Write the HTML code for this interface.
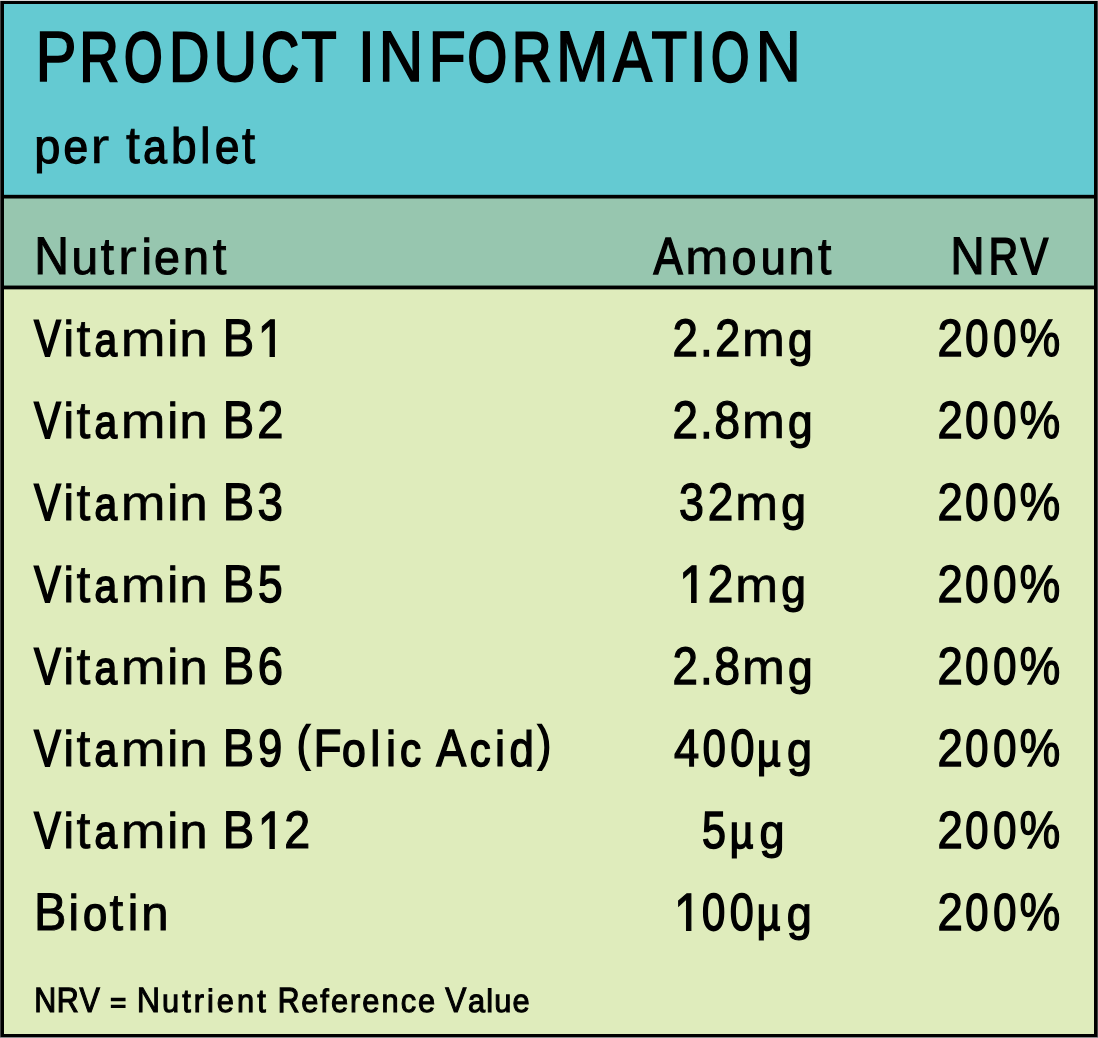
<!DOCTYPE html>
<html lang="en">
<head>
<meta charset="utf-8">
<title>Product Information</title>
<style>
html,body{margin:0;padding:0;background:#000;}
body{width:1098px;height:1038px;overflow:hidden;position:relative;font-family:"Liberation Sans",sans-serif;color:#000;}
#card{position:absolute;left:0;top:0;width:1098px;height:1038px;background:#000;overflow:hidden;}
.band{position:absolute;left:4px;width:1090px;}
#b1{top:4px;height:191px;background:#64cad2;}
#b2{top:198px;height:88px;background:#97c6af;}
#b3{top:289px;height:745px;background:#dfecbc;}
.ln{position:absolute;left:4px;width:1090px;height:5px;}
#l1{top:194px;background:linear-gradient(to bottom,rgba(0,0,0,.18) 0,rgba(0,0,0,.18) 1px,#000 1px,#000 4px,rgba(0,0,0,.5) 4px,rgba(0,0,0,.5) 5px);}
#l2{top:285px;background:linear-gradient(to bottom,rgba(0,0,0,.45) 0,rgba(0,0,0,.45) 1px,#000 1px,#000 4px,rgba(0,0,0,.35) 4px,rgba(0,0,0,.35) 5px);}
#edgeT{position:absolute;left:0;top:0;width:1098px;height:1px;background:#d7d5d5;}
#edgeL{position:absolute;left:0;top:1px;width:1px;height:1036px;background:#444;}
#edgeR{position:absolute;left:1097px;top:1px;width:1px;height:1036px;background:#444;}
#edgeB{position:absolute;left:0;top:1037px;width:1098px;height:1px;background:#8a8a8e;}
.blk{margin:0;padding:0;font-weight:400;}
.blk span{position:absolute;left:0;top:0;white-space:nowrap;line-height:normal;transform-origin:0 0;display:block;font-kerning:none;text-rendering:geometricPrecision;-webkit-text-stroke-color:#000;}
</style>
</head>
<body>
<div id="card">
<div class="band" id="b1"></div>
<div class="band" id="b2"></div>
<div class="band" id="b3"></div>
<div class="ln" id="l1"></div>
<div class="ln" id="l2"></div>
<div id="edgeT"></div><div id="edgeL"></div><div id="edgeR"></div><div id="edgeB"></div>
<div class="blk" id="title"><span id="title_0" style="font-size:71.29px;-webkit-text-stroke-width:1.65px;transform:translate(35.56px,16px) scaleX(0.8645)">P</span><span id="title_1" style="font-size:70.01px;-webkit-text-stroke-width:2.54px;transform:translate(79.39px,17px) scaleX(0.7742)">R</span><span id="title_2" style="font-size:69.33px;-webkit-text-stroke-width:3.00px;transform:translate(124.26px,17px) scaleX(0.7067)">O</span><span id="title_3" style="font-size:70.23px;-webkit-text-stroke-width:2.38px;transform:translate(169.28px,16px) scaleX(0.7884)">D</span><span id="title_4" style="font-size:71.19px;-webkit-text-stroke-width:1.72px;transform:translate(213.22px,17px) scaleX(0.8567)">U</span><span id="title_5" style="font-size:69.55px;-webkit-text-stroke-width:2.85px;transform:translate(261.16px,17px) scaleX(0.7465)">C</span><span id="title_6" style="font-size:70.60px;-webkit-text-stroke-width:2.13px;transform:translate(301.52px,16px) scaleX(0.8132)">T</span> <span id="title_7" style="font-size:70.83px;-webkit-text-stroke-width:1.97px;transform:translate(358.28px,17px) scaleX(0.8300)">I</span><span id="title_8" style="font-size:71.38px;-webkit-text-stroke-width:1.59px;transform:translate(378.62px,16px) scaleX(0.8715)">N</span><span id="title_9" style="font-size:71.20px;-webkit-text-stroke-width:1.71px;transform:translate(428.52px,17px) scaleX(0.8575)">F</span><span id="title_10" style="font-size:69.33px;-webkit-text-stroke-width:3.00px;transform:translate(467.66px,17px) scaleX(0.7239)">O</span><span id="title_11" style="font-size:70.09px;-webkit-text-stroke-width:2.48px;transform:translate(511.96px,17px) scaleX(0.7796)">R</span><span id="title_12" style="font-size:71.58px;-webkit-text-stroke-width:1.45px;transform:translate(555.83px,16px) scaleX(0.8876)">M</span><span id="title_13" style="font-size:70.67px;-webkit-text-stroke-width:2.08px;transform:translate(613.17px,16px) scaleX(0.8185)">A</span><span id="title_14" style="font-size:70.75px;-webkit-text-stroke-width:2.02px;transform:translate(651.51px,16px) scaleX(0.8240)">T</span><span id="title_15" style="font-size:70.83px;-webkit-text-stroke-width:1.97px;transform:translate(690.10px,17px) scaleX(0.8300)">I</span><span id="title_16" style="font-size:69.33px;-webkit-text-stroke-width:3.00px;transform:translate(711.27px,17px) scaleX(0.7029)">O</span><span id="title_17" style="font-size:71.52px;-webkit-text-stroke-width:1.49px;transform:translate(755.40px,16px) scaleX(0.8830)">N</span></div>
<div class="blk" id="sub"><span id="sub_0" style="font-size:48.14px;-webkit-text-stroke-width:1.08px;transform:translate(34.15px,119px) scaleX(0.9767)">p</span><span id="sub_1" style="font-size:47.62px;-webkit-text-stroke-width:1.36px;transform:translate(63.40px,120px) scaleX(0.9291)">e</span><span id="sub_2" style="font-size:49.62px;-webkit-text-stroke-width:0.30px;transform:translate(90.25px,117px) scaleX(1.1600)">r</span> <span id="sub_3" style="font-size:52.21px;-webkit-text-stroke-width:0.77px;transform:translate(125.98px,116px) scaleX(0.9617)">t</span><span id="sub_4" style="font-size:47.25px;-webkit-text-stroke-width:1.55px;transform:translate(143.24px,120px) scaleX(0.8979)">a</span><span id="sub_5" style="font-size:49.67px;-webkit-text-stroke-width:1.17px;transform:translate(171.04px,117px) scaleX(0.9281)">b</span><span id="sub_6" style="font-size:49.92px;-webkit-text-stroke-width:1.04px;transform:translate(199.88px,117px) scaleX(0.9500)">l</span><span id="sub_7" style="font-size:47.52px;-webkit-text-stroke-width:1.41px;transform:translate(215.04px,120px) scaleX(0.9205)">e</span><span id="sub_8" style="font-size:51.71px;-webkit-text-stroke-width:1.10px;transform:translate(241.88px,115px) scaleX(0.9059)">t</span></div>
<div class="blk" id="h1"><span id="h1_0" style="font-size:52.94px;-webkit-text-stroke-width:1.08px;transform:translate(34.24px,226px) scaleX(0.9078)">N</span><span id="h1_1" style="font-size:48.29px;-webkit-text-stroke-width:1.00px;transform:translate(71.45px,230px) scaleX(0.9912)">u</span><span id="h1_2" style="font-size:51.83px;-webkit-text-stroke-width:1.02px;transform:translate(100.71px,226px) scaleX(0.9192)">t</span><span id="h1_3" style="font-size:49.62px;-webkit-text-stroke-width:0.30px;transform:translate(117.70px,228px) scaleX(1.1600)">r</span><span id="h1_4" style="font-size:49.92px;-webkit-text-stroke-width:1.04px;transform:translate(141.43px,228px) scaleX(0.9500)">i</span><span id="h1_5" style="font-size:48.07px;-webkit-text-stroke-width:1.12px;transform:translate(154.00px,230px) scaleX(0.9698)">e</span><span id="h1_6" style="font-size:48.07px;-webkit-text-stroke-width:1.12px;transform:translate(182.99px,230px) scaleX(0.9699)">n</span><span id="h1_7" style="font-size:52.07px;-webkit-text-stroke-width:0.87px;transform:translate(212.71px,227px) scaleX(0.9451)">t</span></div>
<div class="blk" id="h2"><span id="h2_0" style="font-size:52.27px;-webkit-text-stroke-width:1.54px;transform:translate(653.51px,227px) scaleX(0.8373)">A</span><span id="h2_1" style="font-size:48.92px;-webkit-text-stroke-width:0.67px;transform:translate(685.30px,230px) scaleX(1.0578)">m</span><span id="h2_2" style="font-size:47.60px;-webkit-text-stroke-width:1.37px;transform:translate(731.80px,231px) scaleX(0.9277)">o</span><span id="h2_3" style="font-size:47.78px;-webkit-text-stroke-width:1.27px;transform:translate(760.80px,231px) scaleX(0.9435)">u</span><span id="h2_4" style="font-size:48.15px;-webkit-text-stroke-width:1.07px;transform:translate(788.48px,230px) scaleX(0.9782)">n</span><span id="h2_5" style="font-size:51.91px;-webkit-text-stroke-width:0.96px;transform:translate(817.89px,227px) scaleX(0.9281)">t</span></div>
<div class="blk" id="h3"><span id="h3_0" style="font-size:52.90px;-webkit-text-stroke-width:1.11px;transform:translate(950.23px,226px) scaleX(0.9029)">N</span><span id="h3_1" style="font-size:51.71px;-webkit-text-stroke-width:1.92px;transform:translate(988.78px,226px) scaleX(0.7868)">R</span><span id="h3_2" style="font-size:51.77px;-webkit-text-stroke-width:1.88px;transform:translate(1020.76px,226px) scaleX(0.7923)">V</span></div>
<div class="blk" id="n0"><span id="n0_0" style="font-size:51.50px;-webkit-text-stroke-width:2.07px;transform:translate(34.37px,308px) scaleX(0.7692)">V</span><span id="n0_1" style="font-size:49.92px;-webkit-text-stroke-width:1.04px;transform:translate(63.40px,310px) scaleX(0.9500)">i</span><span id="n0_2" style="font-size:52.17px;-webkit-text-stroke-width:0.80px;transform:translate(76.51px,309px) scaleX(0.9578)">t</span><span id="n0_3" style="font-size:46.85px;-webkit-text-stroke-width:1.76px;transform:translate(94.44px,313px) scaleX(0.8668)">a</span><span id="n0_4" style="font-size:49.21px;-webkit-text-stroke-width:0.52px;transform:translate(120.67px,311px) scaleX(1.0916)">m</span><span id="n0_5" style="font-size:49.92px;-webkit-text-stroke-width:1.04px;transform:translate(167.50px,310px) scaleX(0.9500)">i</span><span id="n0_6" style="font-size:48.71px;-webkit-text-stroke-width:0.78px;transform:translate(179.53px,312px) scaleX(1.0346)">n</span> <span id="n0_7" style="font-size:52.80px;-webkit-text-stroke-width:1.17px;transform:translate(222.67px,308px) scaleX(0.8924)">B</span><span id="n0_8" style="font-size:62.80px;-webkit-text-stroke-width:1.20px;clip-path:polygon(-9px -9px,99px -9px,99px 51.00px,-9px 51.00px);transform:translate(257.48px,306px) scaleX(0.7918)">1</span></div>
<div class="blk" id="a0"><span id="a0_0" style="font-size:52.59px;-webkit-text-stroke-width:1.32px;transform:translate(672.46px,308px) scaleX(0.8692)">2</span><span id="a0_1" style="font-size:52.59px;-webkit-text-stroke-width:1.32px;transform:translate(699.98px,308px) scaleX(0.8700)">.</span><span id="a0_2" style="font-size:52.44px;-webkit-text-stroke-width:1.42px;transform:translate(715.13px,309px) scaleX(0.8539)">2</span><span id="a0_3" style="font-size:48.85px;-webkit-text-stroke-width:0.71px;transform:translate(742.04px,312px) scaleX(1.0504)">m</span><span id="a0_4" style="font-size:47.61px;-webkit-text-stroke-width:1.36px;transform:translate(787.95px,313px) scaleX(0.9284)">g</span></div>
<div class="blk" id="p0"><span id="p0_0" style="font-size:52.56px;-webkit-text-stroke-width:1.34px;transform:translate(937.56px,308px) scaleX(0.8668)">2</span><span id="p0_1" style="font-size:51.89px;-webkit-text-stroke-width:1.80px;transform:translate(965.22px,308px) scaleX(0.8022)">0</span><span id="p0_2" style="font-size:51.89px;-webkit-text-stroke-width:1.80px;transform:translate(993.22px,308px) scaleX(0.8022)">0</span><span id="p0_3" style="font-size:52.61px;-webkit-text-stroke-width:1.30px;transform:translate(1019.62px,308px) scaleX(0.8720)">%</span></div>
<div class="blk" id="n1"><span id="n1_0" style="font-size:51.50px;-webkit-text-stroke-width:2.07px;transform:translate(34.37px,390px) scaleX(0.7692)">V</span><span id="n1_1" style="font-size:49.92px;-webkit-text-stroke-width:1.04px;transform:translate(63.40px,392px) scaleX(0.9500)">i</span><span id="n1_2" style="font-size:52.17px;-webkit-text-stroke-width:0.80px;transform:translate(76.51px,391px) scaleX(0.9578)">t</span><span id="n1_3" style="font-size:46.85px;-webkit-text-stroke-width:1.76px;transform:translate(94.44px,395px) scaleX(0.8668)">a</span><span id="n1_4" style="font-size:49.21px;-webkit-text-stroke-width:0.52px;transform:translate(120.67px,393px) scaleX(1.0916)">m</span><span id="n1_5" style="font-size:49.92px;-webkit-text-stroke-width:1.04px;transform:translate(167.50px,392px) scaleX(0.9500)">i</span><span id="n1_6" style="font-size:48.71px;-webkit-text-stroke-width:0.78px;transform:translate(179.53px,394px) scaleX(1.0346)">n</span> <span id="n1_7" style="font-size:52.80px;-webkit-text-stroke-width:1.17px;transform:translate(222.67px,390px) scaleX(0.8924)">B</span><span id="n1_8" style="font-size:52.80px;-webkit-text-stroke-width:1.17px;transform:translate(257.25px,390px) scaleX(0.8923)">2</span></div>
<div class="blk" id="a1"><span id="a1_0" style="font-size:52.59px;-webkit-text-stroke-width:1.32px;transform:translate(672.46px,390px) scaleX(0.8692)">2</span><span id="a1_1" style="font-size:52.59px;-webkit-text-stroke-width:1.32px;transform:translate(699.98px,390px) scaleX(0.8700)">.</span><span id="a1_2" style="font-size:52.71px;-webkit-text-stroke-width:1.24px;transform:translate(714.33px,390px) scaleX(0.8821)">8</span><span id="a1_3" style="font-size:48.85px;-webkit-text-stroke-width:0.71px;transform:translate(742.04px,394px) scaleX(1.0504)">m</span><span id="a1_4" style="font-size:47.61px;-webkit-text-stroke-width:1.36px;transform:translate(787.95px,395px) scaleX(0.9284)">g</span></div>
<div class="blk" id="p1"><span id="p1_0" style="font-size:52.56px;-webkit-text-stroke-width:1.34px;transform:translate(937.56px,390px) scaleX(0.8668)">2</span><span id="p1_1" style="font-size:51.89px;-webkit-text-stroke-width:1.80px;transform:translate(965.22px,390px) scaleX(0.8022)">0</span><span id="p1_2" style="font-size:51.89px;-webkit-text-stroke-width:1.80px;transform:translate(993.22px,390px) scaleX(0.8022)">0</span><span id="p1_3" style="font-size:52.61px;-webkit-text-stroke-width:1.30px;transform:translate(1019.62px,390px) scaleX(0.8720)">%</span></div>
<div class="blk" id="n2"><span id="n2_0" style="font-size:51.50px;-webkit-text-stroke-width:2.07px;transform:translate(34.37px,472px) scaleX(0.7692)">V</span><span id="n2_1" style="font-size:49.92px;-webkit-text-stroke-width:1.04px;transform:translate(63.40px,474px) scaleX(0.9500)">i</span><span id="n2_2" style="font-size:52.17px;-webkit-text-stroke-width:0.80px;transform:translate(76.51px,473px) scaleX(0.9578)">t</span><span id="n2_3" style="font-size:46.85px;-webkit-text-stroke-width:1.76px;transform:translate(94.44px,477px) scaleX(0.8668)">a</span><span id="n2_4" style="font-size:49.21px;-webkit-text-stroke-width:0.52px;transform:translate(120.67px,475px) scaleX(1.0916)">m</span><span id="n2_5" style="font-size:49.92px;-webkit-text-stroke-width:1.04px;transform:translate(167.50px,474px) scaleX(0.9500)">i</span><span id="n2_6" style="font-size:48.71px;-webkit-text-stroke-width:0.78px;transform:translate(179.53px,476px) scaleX(1.0346)">n</span> <span id="n2_7" style="font-size:52.80px;-webkit-text-stroke-width:1.17px;transform:translate(222.67px,472px) scaleX(0.8924)">B</span><span id="n2_8" style="font-size:52.59px;-webkit-text-stroke-width:1.32px;transform:translate(257.44px,472px) scaleX(0.8693)">3</span></div>
<div class="blk" id="a2"><span id="a2_0" style="font-size:52.44px;-webkit-text-stroke-width:1.42px;transform:translate(678.96px,473px) scaleX(0.8540)">3</span><span id="a2_1" style="font-size:52.63px;-webkit-text-stroke-width:1.29px;transform:translate(707.69px,472px) scaleX(0.8733)">2</span><span id="a2_2" style="font-size:48.87px;-webkit-text-stroke-width:0.70px;transform:translate(735.26px,476px) scaleX(1.0521)">m</span><span id="a2_3" style="font-size:47.62px;-webkit-text-stroke-width:1.36px;transform:translate(781.13px,477px) scaleX(0.9296)">g</span></div>
<div class="blk" id="p2"><span id="p2_0" style="font-size:52.56px;-webkit-text-stroke-width:1.34px;transform:translate(937.56px,472px) scaleX(0.8668)">2</span><span id="p2_1" style="font-size:51.89px;-webkit-text-stroke-width:1.80px;transform:translate(965.22px,472px) scaleX(0.8022)">0</span><span id="p2_2" style="font-size:51.89px;-webkit-text-stroke-width:1.80px;transform:translate(993.22px,472px) scaleX(0.8022)">0</span><span id="p2_3" style="font-size:52.61px;-webkit-text-stroke-width:1.30px;transform:translate(1019.62px,472px) scaleX(0.8720)">%</span></div>
<div class="blk" id="n3"><span id="n3_0" style="font-size:51.50px;-webkit-text-stroke-width:2.07px;transform:translate(34.37px,554px) scaleX(0.7692)">V</span><span id="n3_1" style="font-size:49.92px;-webkit-text-stroke-width:1.04px;transform:translate(63.40px,556px) scaleX(0.9500)">i</span><span id="n3_2" style="font-size:52.17px;-webkit-text-stroke-width:0.80px;transform:translate(76.51px,555px) scaleX(0.9578)">t</span><span id="n3_3" style="font-size:46.85px;-webkit-text-stroke-width:1.76px;transform:translate(94.44px,559px) scaleX(0.8668)">a</span><span id="n3_4" style="font-size:49.21px;-webkit-text-stroke-width:0.52px;transform:translate(120.67px,557px) scaleX(1.0916)">m</span><span id="n3_5" style="font-size:49.92px;-webkit-text-stroke-width:1.04px;transform:translate(167.50px,556px) scaleX(0.9500)">i</span><span id="n3_6" style="font-size:48.71px;-webkit-text-stroke-width:0.78px;transform:translate(179.53px,558px) scaleX(1.0346)">n</span> <span id="n3_7" style="font-size:52.80px;-webkit-text-stroke-width:1.17px;transform:translate(222.67px,554px) scaleX(0.8924)">B</span><span id="n3_8" style="font-size:52.35px;-webkit-text-stroke-width:1.48px;transform:translate(258.09px,555px) scaleX(0.8454)">5</span></div>
<div class="blk" id="a3"><span id="a3_0" style="font-size:62.80px;-webkit-text-stroke-width:1.20px;clip-path:polygon(-9px -9px,99px -9px,99px 51.00px,-9px 51.00px);transform:translate(678.82px,552px) scaleX(0.8124)">1</span><span id="a3_1" style="font-size:52.63px;-webkit-text-stroke-width:1.29px;transform:translate(707.69px,554px) scaleX(0.8733)">2</span><span id="a3_2" style="font-size:48.87px;-webkit-text-stroke-width:0.70px;transform:translate(735.26px,558px) scaleX(1.0521)">m</span><span id="a3_3" style="font-size:47.62px;-webkit-text-stroke-width:1.36px;transform:translate(781.13px,559px) scaleX(0.9296)">g</span></div>
<div class="blk" id="p3"><span id="p3_0" style="font-size:52.56px;-webkit-text-stroke-width:1.34px;transform:translate(937.56px,554px) scaleX(0.8668)">2</span><span id="p3_1" style="font-size:51.89px;-webkit-text-stroke-width:1.80px;transform:translate(965.22px,554px) scaleX(0.8022)">0</span><span id="p3_2" style="font-size:51.89px;-webkit-text-stroke-width:1.80px;transform:translate(993.22px,554px) scaleX(0.8022)">0</span><span id="p3_3" style="font-size:52.61px;-webkit-text-stroke-width:1.30px;transform:translate(1019.62px,554px) scaleX(0.8720)">%</span></div>
<div class="blk" id="n4"><span id="n4_0" style="font-size:51.50px;-webkit-text-stroke-width:2.07px;transform:translate(34.37px,636px) scaleX(0.7692)">V</span><span id="n4_1" style="font-size:49.92px;-webkit-text-stroke-width:1.04px;transform:translate(63.40px,638px) scaleX(0.9500)">i</span><span id="n4_2" style="font-size:52.17px;-webkit-text-stroke-width:0.80px;transform:translate(76.51px,637px) scaleX(0.9578)">t</span><span id="n4_3" style="font-size:46.85px;-webkit-text-stroke-width:1.76px;transform:translate(94.44px,641px) scaleX(0.8668)">a</span><span id="n4_4" style="font-size:49.21px;-webkit-text-stroke-width:0.52px;transform:translate(120.67px,639px) scaleX(1.0916)">m</span><span id="n4_5" style="font-size:49.92px;-webkit-text-stroke-width:1.04px;transform:translate(167.50px,638px) scaleX(0.9500)">i</span><span id="n4_6" style="font-size:48.71px;-webkit-text-stroke-width:0.78px;transform:translate(179.53px,640px) scaleX(1.0346)">n</span> <span id="n4_7" style="font-size:52.80px;-webkit-text-stroke-width:1.17px;transform:translate(222.67px,636px) scaleX(0.8924)">B</span><span id="n4_8" style="font-size:52.54px;-webkit-text-stroke-width:1.35px;transform:translate(257.73px,636px) scaleX(0.8641)">6</span></div>
<div class="blk" id="a4"><span id="a4_0" style="font-size:52.59px;-webkit-text-stroke-width:1.32px;transform:translate(672.46px,636px) scaleX(0.8692)">2</span><span id="a4_1" style="font-size:52.59px;-webkit-text-stroke-width:1.32px;transform:translate(699.98px,636px) scaleX(0.8700)">.</span><span id="a4_2" style="font-size:52.71px;-webkit-text-stroke-width:1.24px;transform:translate(714.33px,636px) scaleX(0.8821)">8</span><span id="a4_3" style="font-size:48.85px;-webkit-text-stroke-width:0.71px;transform:translate(742.04px,640px) scaleX(1.0504)">m</span><span id="a4_4" style="font-size:47.61px;-webkit-text-stroke-width:1.36px;transform:translate(787.95px,641px) scaleX(0.9284)">g</span></div>
<div class="blk" id="p4"><span id="p4_0" style="font-size:52.56px;-webkit-text-stroke-width:1.34px;transform:translate(937.56px,636px) scaleX(0.8668)">2</span><span id="p4_1" style="font-size:51.89px;-webkit-text-stroke-width:1.80px;transform:translate(965.22px,636px) scaleX(0.8022)">0</span><span id="p4_2" style="font-size:51.89px;-webkit-text-stroke-width:1.80px;transform:translate(993.22px,636px) scaleX(0.8022)">0</span><span id="p4_3" style="font-size:52.61px;-webkit-text-stroke-width:1.30px;transform:translate(1019.62px,636px) scaleX(0.8720)">%</span></div>
<div class="blk" id="n5"><span id="n5_0" style="font-size:51.50px;-webkit-text-stroke-width:2.07px;transform:translate(34.37px,718px) scaleX(0.7692)">V</span><span id="n5_1" style="font-size:49.92px;-webkit-text-stroke-width:1.04px;transform:translate(63.40px,720px) scaleX(0.9500)">i</span><span id="n5_2" style="font-size:52.17px;-webkit-text-stroke-width:0.80px;transform:translate(76.51px,719px) scaleX(0.9578)">t</span><span id="n5_3" style="font-size:46.85px;-webkit-text-stroke-width:1.76px;transform:translate(94.44px,723px) scaleX(0.8668)">a</span><span id="n5_4" style="font-size:49.21px;-webkit-text-stroke-width:0.52px;transform:translate(120.67px,721px) scaleX(1.0916)">m</span><span id="n5_5" style="font-size:49.92px;-webkit-text-stroke-width:1.04px;transform:translate(167.50px,720px) scaleX(0.9500)">i</span><span id="n5_6" style="font-size:48.71px;-webkit-text-stroke-width:0.78px;transform:translate(179.53px,722px) scaleX(1.0346)">n</span> <span id="n5_7" style="font-size:52.80px;-webkit-text-stroke-width:1.17px;transform:translate(222.67px,718px) scaleX(0.8924)">B</span><span id="n5_8" style="font-size:52.14px;-webkit-text-stroke-width:1.63px;transform:translate(258.29px,719px) scaleX(0.8254)">9</span> <span id="n5_9" style="font-size:48.50px;-webkit-text-stroke-width:2.00px;transform:translate(297.05px,716px) scaleX(0.8000)">(</span><span id="n5_10" style="font-size:52.64px;-webkit-text-stroke-width:1.29px;transform:translate(313.56px,718px) scaleX(0.8746)">F</span><span id="n5_11" style="font-size:47.31px;-webkit-text-stroke-width:1.52px;transform:translate(342.11px,723px) scaleX(0.9034)">o</span><span id="n5_12" style="font-size:49.92px;-webkit-text-stroke-width:1.04px;transform:translate(369.99px,720px) scaleX(0.9500)">l</span><span id="n5_13" style="font-size:49.92px;-webkit-text-stroke-width:1.04px;transform:translate(385.80px,720px) scaleX(0.9500)">i</span><span id="n5_14" style="font-size:47.21px;-webkit-text-stroke-width:1.57px;transform:translate(400.00px,723px) scaleX(0.8948)">c</span> <span id="n5_15" style="font-size:52.45px;-webkit-text-stroke-width:1.41px;transform:translate(436.37px,719px) scaleX(0.8557)">A</span><span id="n5_16" style="font-size:47.08px;-webkit-text-stroke-width:1.64px;transform:translate(469.80px,722px) scaleX(0.8848)">c</span><span id="n5_17" style="font-size:49.92px;-webkit-text-stroke-width:1.04px;transform:translate(494.65px,720px) scaleX(0.9500)">i</span><span id="n5_18" style="font-size:49.22px;-webkit-text-stroke-width:1.41px;transform:translate(509.57px,721px) scaleX(0.8899)">d</span><span id="n5_19" style="font-size:48.50px;-webkit-text-stroke-width:2.00px;transform:translate(537.97px,716px) scaleX(0.8000)">)</span></div>
<div class="blk" id="a5"><span id="a5_0" style="font-size:52.52px;-webkit-text-stroke-width:1.37px;transform:translate(674.07px,718px) scaleX(0.8622)">4</span><span id="a5_1" style="font-size:51.84px;-webkit-text-stroke-width:1.84px;transform:translate(702.71px,718px) scaleX(0.7976)">0</span><span id="a5_2" style="font-size:52.24px;-webkit-text-stroke-width:1.56px;transform:translate(730.20px,719px) scaleX(0.8344)">0</span><span id="a5_3" style="font-size:46.90px;-webkit-text-stroke-width:1.74px;transform:translate(757.09px,723px) scaleX(0.8709)">µ</span><span id="a5_4" style="font-size:47.77px;-webkit-text-stroke-width:1.28px;transform:translate(786.91px,723px) scaleX(0.9424)">g</span></div>
<div class="blk" id="p5"><span id="p5_0" style="font-size:52.56px;-webkit-text-stroke-width:1.34px;transform:translate(937.56px,718px) scaleX(0.8668)">2</span><span id="p5_1" style="font-size:51.89px;-webkit-text-stroke-width:1.80px;transform:translate(965.22px,718px) scaleX(0.8022)">0</span><span id="p5_2" style="font-size:51.89px;-webkit-text-stroke-width:1.80px;transform:translate(993.22px,718px) scaleX(0.8022)">0</span><span id="p5_3" style="font-size:52.61px;-webkit-text-stroke-width:1.30px;transform:translate(1019.62px,718px) scaleX(0.8720)">%</span></div>
<div class="blk" id="n6"><span id="n6_0" style="font-size:51.50px;-webkit-text-stroke-width:2.07px;transform:translate(34.37px,800px) scaleX(0.7692)">V</span><span id="n6_1" style="font-size:49.92px;-webkit-text-stroke-width:1.04px;transform:translate(63.40px,802px) scaleX(0.9500)">i</span><span id="n6_2" style="font-size:52.17px;-webkit-text-stroke-width:0.80px;transform:translate(76.51px,801px) scaleX(0.9578)">t</span><span id="n6_3" style="font-size:46.85px;-webkit-text-stroke-width:1.76px;transform:translate(94.44px,805px) scaleX(0.8668)">a</span><span id="n6_4" style="font-size:49.21px;-webkit-text-stroke-width:0.52px;transform:translate(120.67px,803px) scaleX(1.0916)">m</span><span id="n6_5" style="font-size:49.92px;-webkit-text-stroke-width:1.04px;transform:translate(167.50px,802px) scaleX(0.9500)">i</span><span id="n6_6" style="font-size:48.71px;-webkit-text-stroke-width:0.78px;transform:translate(179.53px,804px) scaleX(1.0346)">n</span> <span id="n6_7" style="font-size:52.80px;-webkit-text-stroke-width:1.17px;transform:translate(222.67px,800px) scaleX(0.8924)">B</span><span id="n6_8" style="font-size:62.80px;-webkit-text-stroke-width:1.20px;clip-path:polygon(-9px -9px,99px -9px,99px 51.00px,-9px 51.00px);transform:translate(257.62px,798px) scaleX(0.7868)">1</span><span id="n6_9" style="font-size:52.72px;-webkit-text-stroke-width:1.23px;transform:translate(284.13px,800px) scaleX(0.8833)">2</span></div>
<div class="blk" id="a6"><span id="a6_0" style="font-size:52.14px;-webkit-text-stroke-width:1.63px;transform:translate(702.12px,801px) scaleX(0.8248)">5</span><span id="a6_1" style="font-size:46.90px;-webkit-text-stroke-width:1.74px;transform:translate(729.67px,805px) scaleX(0.8707)">µ</span><span id="a6_2" style="font-size:47.77px;-webkit-text-stroke-width:1.28px;transform:translate(759.45px,805px) scaleX(0.9423)">g</span></div>
<div class="blk" id="p6"><span id="p6_0" style="font-size:52.56px;-webkit-text-stroke-width:1.34px;transform:translate(937.56px,800px) scaleX(0.8668)">2</span><span id="p6_1" style="font-size:51.89px;-webkit-text-stroke-width:1.80px;transform:translate(965.22px,800px) scaleX(0.8022)">0</span><span id="p6_2" style="font-size:51.89px;-webkit-text-stroke-width:1.80px;transform:translate(993.22px,800px) scaleX(0.8022)">0</span><span id="p6_3" style="font-size:52.61px;-webkit-text-stroke-width:1.30px;transform:translate(1019.62px,800px) scaleX(0.8720)">%</span></div>
<div class="blk" id="n7"><span id="n7_0" style="font-size:53.00px;-webkit-text-stroke-width:1.03px;transform:translate(34.11px,882px) scaleX(0.9147)">B</span><span id="n7_1" style="font-size:49.92px;-webkit-text-stroke-width:1.04px;transform:translate(68.53px,884px) scaleX(0.9500)">i</span><span id="n7_2" style="font-size:47.46px;-webkit-text-stroke-width:1.44px;transform:translate(82.93px,887px) scaleX(0.9155)">o</span><span id="n7_3" style="font-size:52.06px;-webkit-text-stroke-width:0.87px;transform:translate(109.60px,883px) scaleX(0.9449)">t</span><span id="n7_4" style="font-size:49.92px;-webkit-text-stroke-width:1.04px;transform:translate(127.80px,884px) scaleX(0.9500)">i</span><span id="n7_5" style="font-size:48.49px;-webkit-text-stroke-width:0.90px;transform:translate(141.25px,886px) scaleX(1.0121)">n</span></div>
<div class="blk" id="a7"><span id="a7_0" style="font-size:62.80px;-webkit-text-stroke-width:1.20px;clip-path:polygon(-9px -9px,99px -9px,99px 51.00px,-9px 51.00px);transform:translate(673.70px,880px) scaleX(0.8047)">1</span><span id="a7_1" style="font-size:51.93px;-webkit-text-stroke-width:1.77px;transform:translate(701.95px,883px) scaleX(0.8058)">0</span><span id="a7_2" style="font-size:52.15px;-webkit-text-stroke-width:1.62px;transform:translate(729.75px,883px) scaleX(0.8259)">0</span><span id="a7_3" style="font-size:46.90px;-webkit-text-stroke-width:1.74px;transform:translate(756.67px,887px) scaleX(0.8706)">µ</span><span id="a7_4" style="font-size:47.78px;-webkit-text-stroke-width:1.27px;transform:translate(786.66px,887px) scaleX(0.9431)">g</span></div>
<div class="blk" id="p7"><span id="p7_0" style="font-size:52.56px;-webkit-text-stroke-width:1.34px;transform:translate(937.56px,882px) scaleX(0.8668)">2</span><span id="p7_1" style="font-size:51.89px;-webkit-text-stroke-width:1.80px;transform:translate(965.22px,882px) scaleX(0.8022)">0</span><span id="p7_2" style="font-size:51.89px;-webkit-text-stroke-width:1.80px;transform:translate(993.22px,882px) scaleX(0.8022)">0</span><span id="p7_3" style="font-size:52.61px;-webkit-text-stroke-width:1.30px;transform:translate(1019.62px,882px) scaleX(0.8720)">%</span></div>
<div class="blk" id="foot"><span id="foot_0" style="font-size:34.99px;-webkit-text-stroke-width:1.23px;letter-spacing:0.64px;transform:translate(34.32px,981px) scaleX(0.8700)">NRV</span> <span id="foot_1" style="font-size:27.62px;-webkit-text-stroke-width:1.50px;transform:translate(110.32px,987px) scaleX(0.9861)">=</span> <span id="foot_2" style="font-size:35.28px;-webkit-text-stroke-width:1.03px;transform:translate(136.70px,981px) scaleX(0.9147)">N</span><span id="foot_3" style="font-size:32.40px;-webkit-text-stroke-width:1.09px;letter-spacing:3.18px;transform:translate(162.03px,983px) scaleX(0.9500)">utrient</span> <span id="foot_4" style="font-size:34.94px;-webkit-text-stroke-width:1.26px;transform:translate(277.80px,981px) scaleX(0.8627)">R</span><span id="foot_5" style="font-size:32.40px;-webkit-text-stroke-width:1.09px;letter-spacing:2.15px;transform:translate(301.14px,983px) scaleX(0.9500)">eference</span> <span id="foot_6" style="font-size:35.20px;-webkit-text-stroke-width:1.08px;transform:translate(445.28px,981px) scaleX(0.9018)">V</span><span id="foot_7" style="font-size:32.40px;-webkit-text-stroke-width:1.09px;letter-spacing:1.25px;transform:translate(467.98px,983px) scaleX(0.9500)">alue</span></div>
</div>
</body>
</html>
